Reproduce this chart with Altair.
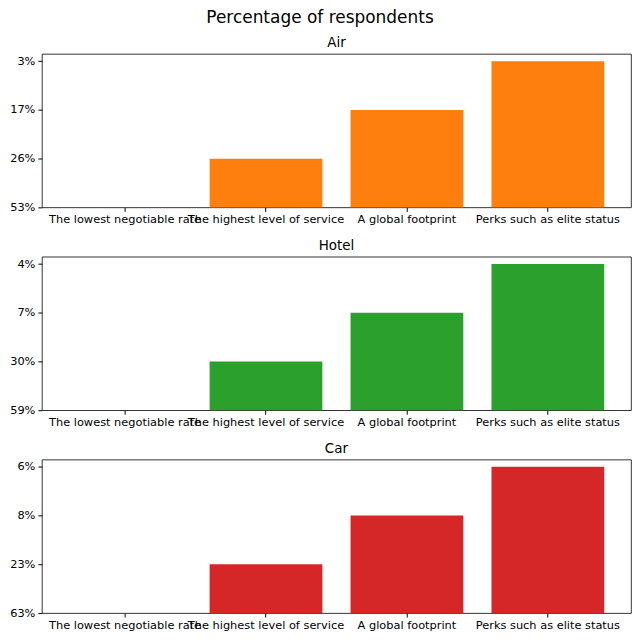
import altair as alt
import pandas as pd

categories = [
    "The lowest negotiable rate",
    "The highest level of service",
    "A global footprint",
    "Perks such as elite status",
]
modes = ["Air", "Hotel", "Car"]
air_pct = ["53%", "26%", "17%", "3%"]
hotel_pct = ["59%", "30%", "7%", "4%"]
car_pct = ["63%", "23%", "8%", "6%"]
colors = ["#ff7f0e", "#2ca02c", "#d62728"]

FONT = "DejaVu Sans"


def panel(mode, pcts, color):
    # matplotlib-style categorical y: each distinct label gets the next integer position
    order = []
    for p in pcts:
        if p not in order:
            order.append(p)
    df = pd.DataFrame({
        "category": categories,
        "pct": pcts,
        "idx": [order.index(p) for p in pcts],
    })
    label_arr = "[" + ",".join("'%s'" % s for s in order) + "]"
    top = (len(order) - 1) * 1.05
    return alt.Chart(df).mark_bar(color=color).encode(
        x=alt.X(
            "category:N",
            sort=categories,
            scale=alt.Scale(paddingInner=0.2, paddingOuter=0.19),
            axis=alt.Axis(
                title=None, labelAngle=0, labelFontSize=11.4, labelFont=FONT,
                labelColor="#000", tickSize=4, tickColor="#000", labelPadding=2,
                domain=False, grid=False, labelOverlap=False, labelLimit=0,
                minExtent=20, maxExtent=20,
            ),
        ),
        y=alt.Y(
            "idx:Q",
            scale=alt.Scale(domain=[0, top], nice=False, zero=True),
            axis=alt.Axis(
                title=None, values=list(range(len(order))),
                labelExpr=label_arr + "[datum.value]",
                labelFontSize=11.4, labelFont=FONT, labelColor="#000",
                tickSize=4, tickColor="#000", labelPadding=3,
                domain=False, grid=False, minExtent=33, maxExtent=33,
            ),
        ),
        y2=alt.datum(0),
        tooltip=["category:N", "pct:N"],
    ).properties(
        width=591, height=154,
        title=alt.TitleParams(mode, fontSize=13.5, font=FONT, fontWeight="normal",
                              color="#000", offset=4),
    )


charts = [panel(m, p, c) for m, p, c in zip(modes, [air_pct, hotel_pct, car_pct], colors)]

chart = alt.vconcat(*charts, spacing=10.5).properties(
    title=alt.TitleParams("Percentage of respondents", fontSize=17, font=FONT,
                          fontWeight="normal", color="#000", anchor="middle",
                          offset=7, dy=-2),
    padding=0,
).configure_view(
    stroke="#000", strokeWidth=0.8,
)

chart.save("out.html", embed_options={"renderer": "svg", "actions": False})
